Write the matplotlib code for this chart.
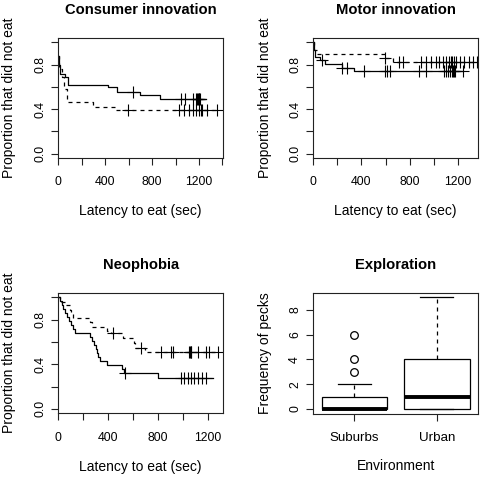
import numpy as np
import matplotlib
matplotlib.use("Agg")
import matplotlib.pyplot as plt

plt.rcParams['font.family'] = ['Liberation Sans', 'DejaVu Sans']

W, H = 483, 478

# ---------------- data ----------------
# Consumer innovation
cons_solid_t = [0, 5, 12, 57, 85, 425, 497, 695, 865]
cons_solid_s = [0.875, 0.80, 0.72, 0.69, 0.62, 0.595, 0.557, 0.524, 0.488]
cons_solid_end = 1262
cons_solid_cens = [633, 1050, 1078, 1149, 1177, 1186, 1191, 1196, 1201, 1206]

cons_dash_t = [0, 5, 35, 50, 71, 292, 496]
cons_dash_s = [0.875, 0.76, 0.69, 0.58, 0.465, 0.42, 0.39]
cons_dash_end = 1353
cons_dash_cens = [596, 1027, 1072, 1112, 1149, 1177, 1197, 1214, 1226, 1271, 1353]

# Motor innovation
motor_solid_t = [0, 3, 14, 56, 97, 237, 334]
motor_solid_s = [1.0, 0.93, 0.868, 0.84, 0.803, 0.773, 0.74]
motor_solid_end = 1240
motor_solid_cens = [70, 237, 279, 423, 593, 613, 635, 877, 933, 1086, 1106,
                    1122, 1136, 1150, 1161, 1170, 1180, 1240]

motor_dash_t = [0, 5, 28, 599, 663]
motor_dash_s = [1.0, 0.93, 0.899, 0.86, 0.824]
motor_dash_end = 1362
motor_dash_cens = [599, 710, 744, 891, 933, 975, 1017, 1044, 1078, 1106, 1128,
                   1142, 1156, 1170, 1184, 1217, 1253, 1295, 1330, 1358]

# Neophobia
neo_solid_t = [0, 13, 27, 40, 55, 70, 85, 100, 115, 134, 254, 270, 290, 305,
               310, 320, 335, 390, 510, 525, 800]
neo_solid_s = [1.0, 0.964, 0.929, 0.893, 0.857, 0.821, 0.786, 0.75, 0.714,
               0.679, 0.643, 0.607, 0.571, 0.536, 0.5, 0.464, 0.429, 0.39,
               0.355, 0.32, 0.28]
neo_solid_end = 1240
neo_solid_cens = [533, 985, 1005, 1040, 1067, 1088, 1120, 1150, 1187]

neo_dash_t = [0, 10, 60, 95, 105, 118, 254, 267, 390, 420, 520, 605, 614, 694]
neo_dash_s = [1.0, 0.96, 0.93, 0.89, 0.855, 0.82, 0.78, 0.737, 0.70, 0.678,
              0.634, 0.59, 0.545, 0.509]
neo_dash_end = 1280
neo_dash_cens = [440, 662, 822, 907, 920, 1049, 1055, 1061, 1067, 1120, 1187,
                 1205, 1280]

# Exploration boxplot
box_labels = ['Suburbs', 'Urban']
box_whislo = [0, 0]
box_q1 = [0, 0]
box_med = [0, 1]
box_q3 = [1, 4]
box_whishi = [2, 9]
box_fliers = [[3, 4, 6], []]

titles = ['Consumer innovation', 'Motor innovation', 'Neophobia', 'Exploration']

# ---------------- layout helpers ----------------
fig = plt.figure(figsize=(W / 100, H / 100), dpi=100)


def add_ax(x0, y0, x1, y1):
    return fig.add_axes([x0 / W, 1 - y1 / H, (x1 - x0) / W, (y1 - y0) / H])


def ftext(x, y, s, **kw):
    fig.text(x / W, 1 - y / H, s, ha='center', va='center', **kw)


TICK = 8.8
LAB = 10
TIT = 10.6
LC = 'black'


def style(ax):
    for sp in ax.spines.values():
        sp.set_linewidth(0.8)
        sp.set_color('#222222')
    ax.tick_params(direction='out', length=4.8, width=0.8, color='#222222',
                   labelsize=TICK)
    ax.tick_params(axis='x', pad=8.5)
    ax.tick_params(axis='y', pad=4)
    for lab in ax.get_yticklabels():
        lab.set_rotation(90)
        lab.set_va('center')


def km(ax, t, s, end, cens, dashed):
    tt = list(t) + [end]
    ss = list(s) + [s[-1]]
    kw = dict(color=LC, lw=0.9)
    if dashed:
        kw['dashes'] = (3.2, 3.2)
    ax.step(tt, ss, where='post', **kw)
    idx = np.searchsorted(np.array(t), np.array(cens), side='right') - 1
    cy = np.array(s)[idx]
    ax.plot(cens, cy, ls='none', marker='+', ms=9, mew=0.8, color=LC)


def km_axes(ax, xmax, xticks):
    ax.set_xlim(0, xmax)
    ax.set_ylim(-0.04, 1.04)
    ax.set_xticks(xticks)
    ax.set_xticklabels([str(v) if v % 400 == 0 and v <= 1200 else '' for v in xticks])
    ax.set_yticks([0, 0.2, 0.4, 0.6, 0.8, 1.0])
    ax.set_yticklabels(['0.0', '', '0.4', '', '0.8', ''])
    style(ax)


# Panel 1
ax1 = add_ax(58.3, 38, 223, 158)
km(ax1, cons_solid_t, cons_solid_s, cons_solid_end, cons_solid_cens, False)
km(ax1, cons_dash_t, cons_dash_s, cons_dash_end, cons_dash_cens, True)
km_axes(ax1, 1405, [0, 200, 400, 600, 800, 1000, 1200, 1400])

# Panel 2
ax2 = add_ax(313.3, 38, 478, 158)
km(ax2, motor_solid_t, motor_solid_s, motor_solid_end, motor_solid_cens, False)
km(ax2, motor_dash_t, motor_dash_s, motor_dash_end, motor_dash_cens, True)
km_axes(ax2, 1368, [0, 200, 400, 600, 800, 1000, 1200])

# Panel 3
ax3 = add_ax(58.3, 293, 223, 413.3)
km(ax3, neo_solid_t, neo_solid_s, neo_solid_end, neo_solid_cens, False)
km(ax3, neo_dash_t, neo_dash_s, neo_dash_end, neo_dash_cens, True)
km_axes(ax3, 1320, [0, 200, 400, 600, 800, 1000, 1200])

# Panel 4 boxplot
ax4 = add_ax(313.3, 293, 478, 413.5)
stats = []
for i, lab in enumerate(box_labels):
    stats.append(dict(label=lab, whislo=box_whislo[i], q1=box_q1[i],
                      med=box_med[i], q3=box_q3[i], whishi=box_whishi[i],
                      fliers=box_fliers[i]))
ax4.bxp(stats, positions=[1, 2], widths=0.8, patch_artist=True,
        boxprops=dict(facecolor='white', edgecolor=LC, lw=0.9),
        medianprops=dict(color=LC, lw=2.8, solid_capstyle='butt'),
        whiskerprops=dict(color=LC, lw=0.9, dashes=(3.2, 3.2)),
        capprops=dict(color=LC, lw=0.9), capwidths=0.4,
        flierprops=dict(marker='o', ms=5.5, mfc='none', mec=LC, mew=0.9))
ax4.set_xlim(0.5, 2.5)
ax4.set_ylim(-0.36, 9.36)
ax4.set_yticks([0, 2, 4, 6, 8])
ax4.set_yticklabels(['0', '2', '4', '6', '8'])
style(ax4)
ax4.tick_params(axis='x', labelsize=9.6)

# Titles & labels
ftext(140.7, 10, titles[0], fontsize=TIT, fontweight='bold')
ftext(395.7, 10, titles[1], fontsize=TIT, fontweight='bold')
ftext(140.7, 265, titles[2], fontsize=TIT, fontweight='bold')
ftext(395.7, 265, titles[3], fontsize=TIT, fontweight='bold')

ftext(140.7, 211.5, 'Latency to eat (sec)', fontsize=LAB)
ftext(395.7, 211.5, 'Latency to eat (sec)', fontsize=LAB)
ftext(140.7, 466.5, 'Latency to eat (sec)', fontsize=LAB)
ftext(395.7, 466.5, 'Environment', fontsize=LAB)

ftext(9, 98, 'Proportion that did not eat', fontsize=LAB, rotation=90)
ftext(265, 98, 'Proportion that did not eat', fontsize=LAB, rotation=90)
ftext(9, 353, 'Proportion that did not eat', fontsize=LAB, rotation=90)
ftext(265, 353, 'Frequency of pecks', fontsize=LAB, rotation=90)

fig.savefig('out.png', dpi=100)
